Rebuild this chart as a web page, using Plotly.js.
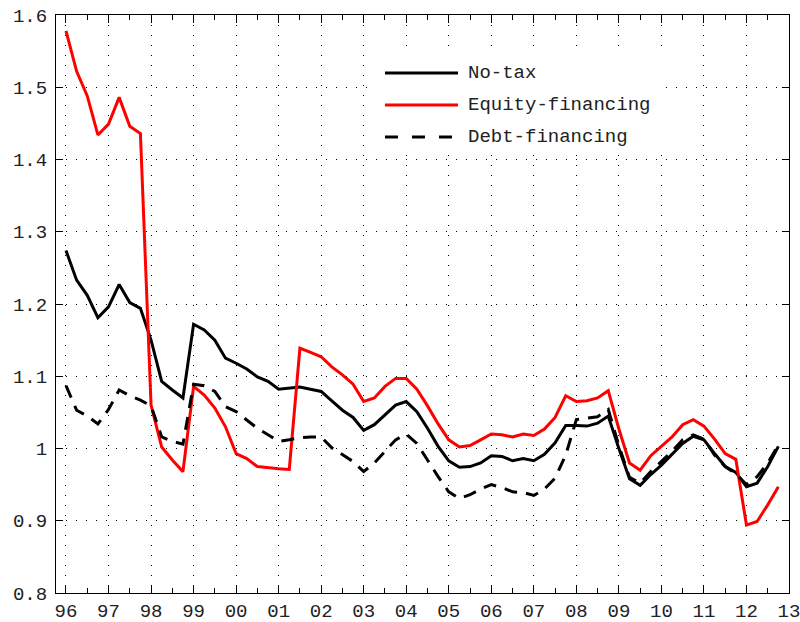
<!DOCTYPE html>
<html>
<head>
<meta charset="utf-8">
<script src="https://cdn.plot.ly/plotly-3.0.1.min.js"></script>
<style>
  html, body { margin: 0; padding: 0; background: #fff; }
  #chart { width: 800px; height: 622px; }
</style>
</head>
<body>
<div id="chart"></div>
<script>
// ---- data (quarterly, starting 1996 Q1) ----
const startYear = 1996;
const seriesNames = ['No-tax', 'Equity-financing', 'Debt-financing'];

const noTax = [1.274,1.233,1.212,1.181,1.196,1.227,1.202,1.194,1.150,1.093,
               1.081,1.070,1.172,1.164,1.150,1.125,1.118,1.110,1.099,1.093,
               1.082,1.083,1.085,1.082,1.079,1.066,1.053,1.043,1.025,1.033,
               1.047,1.060,1.065,1.051,1.028,1.003,0.983,0.974,0.975,0.980,
               0.990,0.989,0.983,0.986,0.983,0.992,1.008,1.032,1.032,1.031,
               1.035,1.045,1.000,0.958,0.949,0.964,0.977,0.992,1.007,1.017,
               1.012,0.993,0.975,0.967,0.947,0.952,0.975,1.003];

const equityFin = [1.578,1.522,1.488,1.434,1.449,1.486,1.446,1.436,1.060,1.002,
                   0.984,0.968,1.086,1.074,1.056,1.030,0.993,0.986,0.975,0.973,
                   0.972,0.971,1.139,1.133,1.127,1.113,1.102,1.089,1.065,1.070,
                   1.086,1.097,1.097,1.082,1.059,1.034,1.012,1.002,1.004,1.012,
                   1.020,1.019,1.016,1.020,1.018,1.027,1.043,1.073,1.065,1.066,
                   1.070,1.080,1.027,0.980,0.970,0.990,1.003,1.016,1.033,1.040,
                   1.031,1.013,0.993,0.985,0.894,0.899,0.922,0.947];

const debtFin = [1.087,1.053,1.045,1.034,1.054,1.081,1.073,1.067,1.059,1.016,
                 1.010,1.006,1.089,1.087,1.079,1.058,1.051,1.040,1.028,1.019,
                 1.010,1.012,1.015,1.016,1.016,1.001,0.991,0.982,0.968,0.980,
                 0.996,1.012,1.020,1.007,0.984,0.961,0.940,0.931,0.936,0.944,
                 0.950,0.946,0.940,0.939,0.935,0.944,0.959,0.991,1.040,1.042,
                 1.044,1.054,1.004,0.960,0.952,0.968,0.982,0.996,1.012,1.019,
                 1.013,0.991,0.975,0.965,0.950,0.961,0.980,1.005];

const yearTicks = [1996,1997,1998,1999,2000,2001,2002,2003,2004,2005,2006,2007,2008,2009,2010,2011,2012,2013];
const yearLabels = ['96','97','98','99','00','01','02','03','04','05','06','07','08','09','10','11','12','13'];
const yTicks = [0.8,0.9,1.0,1.1,1.2,1.3,1.4,1.5,1.6];
const yLabels = ['0.8','0.9','1','1.1','1.2','1.3','1.4','1.5','1.6'];

// quarter positions on the year axis
const xq = noTax.map((_, i) => startYear + i / 4);

const FONT = 'Liberation Mono, Courier New, monospace';

const traces = [
  { x: xq, y: noTax, name: seriesNames[0], type: 'scatter', mode: 'lines',
    line: { color: '#000000', width: 3 } },
  { x: xq, y: equityFin, name: seriesNames[1], type: 'scatter', mode: 'lines',
    line: { color: '#ff0000', width: 3 } },
  { x: xq, y: debtFin, name: seriesNames[2], type: 'scatter', mode: 'lines',
    line: { color: '#000000', width: 3, dash: '13px,9px' } }
];

// hand-drawn legend (long line samples, white box that hides the grid)
const legY = [0.8997, 0.8443, 0.7889];
const legStyles = [
  { color: '#000000', width: 3, dash: 'solid' },
  { color: '#ff0000', width: 3, dash: 'solid' },
  { color: '#000000', width: 3, dash: '13px,14px' }
];
const shapes = [
  { type: 'rect', xref: 'paper', yref: 'paper', x0: 0.4284, x1: 0.8267, y0: 0.7578, y1: 0.9394,
    fillcolor: '#ffffff', line: { width: 0 }, layer: 'above' }
];
const annotations = [];
seriesNames.forEach((n, k) => {
  shapes.push({ type: 'line', xref: 'paper', yref: 'paper', x0: 0.4488, x1: 0.5484,
    y0: legY[k], y1: legY[k], line: legStyles[k], layer: 'above' });
  annotations.push({ xref: 'paper', yref: 'paper', x: 0.5593, y: legY[k], text: n,
    showarrow: false, xanchor: 'left', yanchor: 'middle',
    font: { family: FONT, size: 19, color: '#222222' } });
});

const layout = {
  width: 800, height: 622,
  margin: { l: 56, r: 11, t: 15, b: 29 },
  paper_bgcolor: '#ffffff', plot_bgcolor: '#ffffff',
  showlegend: false,
  font: { family: FONT, size: 19, color: '#222222' },
  xaxis: {
    range: [1995.765, 2013], tickmode: 'array', tickvals: yearTicks, ticktext: yearLabels,
    ticks: 'inside', ticklen: 8, tickwidth: 1, tickcolor: '#000',
    showline: true, linecolor: '#000', linewidth: 1, mirror: 'allticks',
    showgrid: true, gridcolor: '#000', gridwidth: 1, griddash: '1px,9px',
    zeroline: false, ticklabelstandoff: 0, ticklabeloverflow: 'allow',
    minor: { dtick: 0.5, tick0: 1996, ticks: 'inside', ticklen: 5, tickcolor: '#000', showgrid: false },
    tickfont: { family: FONT, size: 19, color: '#222222' }
  },
  yaxis: {
    range: [0.8, 1.6], tickmode: 'array', tickvals: yTicks, ticktext: yLabels,
    ticks: 'inside', ticklen: 7, tickwidth: 1, tickcolor: '#000',
    showline: true, linecolor: '#000', linewidth: 1, mirror: 'allticks',
    showgrid: true, gridcolor: '#000', gridwidth: 1, griddash: '1px,9px',
    zeroline: false, ticklabelstandoff: 4, ticklabeloverflow: 'allow',
    tickfont: { family: FONT, size: 19, color: '#222222' }
  },
  shapes: shapes,
  annotations: annotations
};

Plotly.newPlot('chart', traces, layout, { displayModeBar: false, staticPlot: true });
</script>
</body>
</html>
